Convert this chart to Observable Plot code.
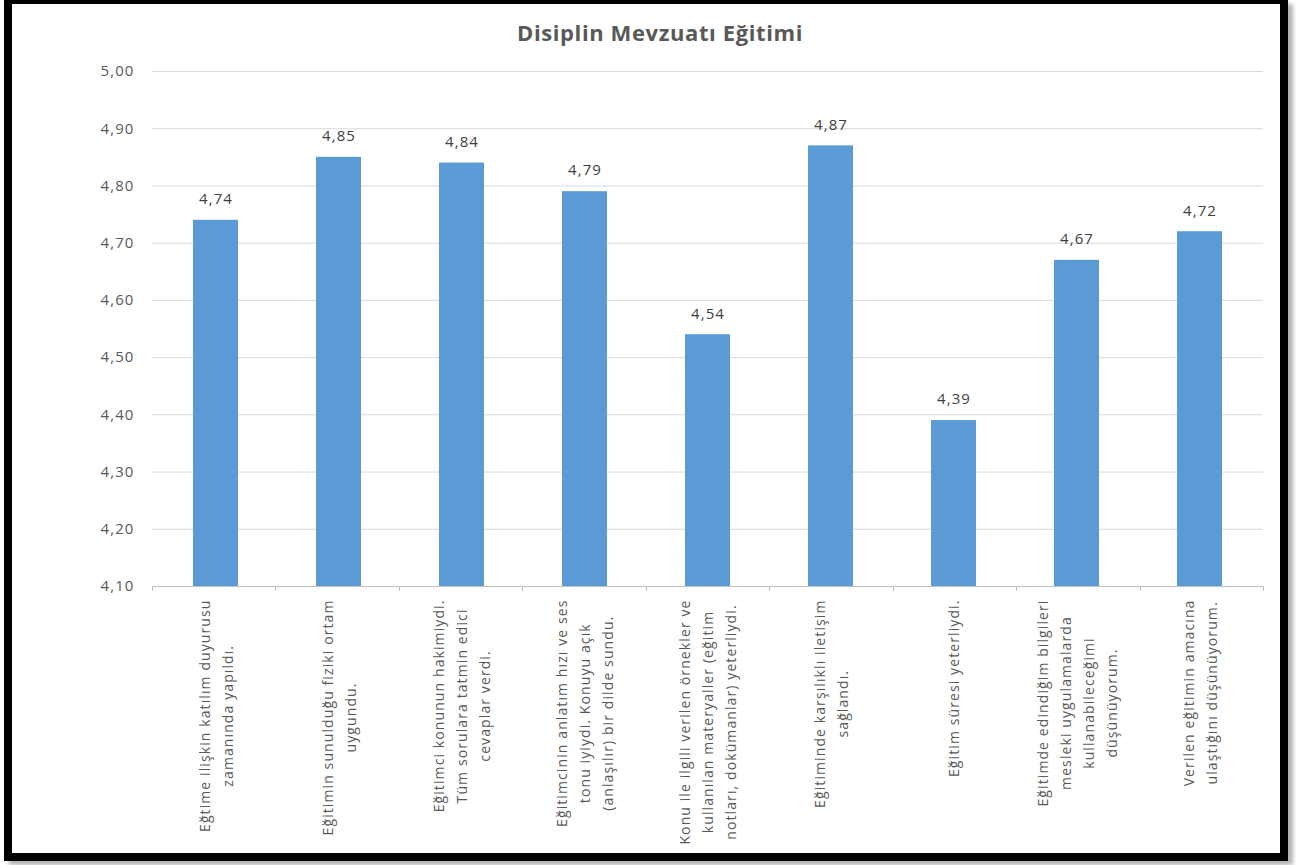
<!DOCTYPE html>
<html>
<head>
<meta charset="utf-8">
<script src="https://cdn.jsdelivr.net/npm/d3@7"></script>
<script src="https://cdn.jsdelivr.net/npm/@observablehq/plot@0.6"></script>
<style>
html, body { margin: 0; padding: 0; background: #fff; }
#wrap { position: relative; width: 1301px; height: 865px; overflow: hidden; font-family: 'Open Sans', sans-serif; }
#frame { position: absolute; left: 4px; top: 0; width: 1284px; height: 861px; box-sizing: border-box;
  border: 8px solid #000; border-top-width: 4px; box-shadow: 5px 4px 4px rgba(0,0,0,0.3); background: #fff; }
#title { position: relative; height: 52px; box-sizing: border-box; padding-top: 17px; padding-left: 19px;
  text-align: center; font: bold 22px 'Open Sans', sans-serif; letter-spacing: 0.6px; line-height: 30px; color: #595959; }
#chart { position: relative; }
#chart svg text { letter-spacing: 1.1px; }
</style>
</head>
<body>
<div id="wrap">
  <div id="frame"></div>
  <div id="title">Disiplin Mevzuatı Eğitimi</div>
  <div id="chart"></div>
</div>
<script>
const categories = [
  "Eğtime ilişkin katılım duyurusu\nzamanında yapıldı.",
  "Eğitimin sunulduğu fiziki ortam\nuygundu.",
  "Eğitimci konunun hakimiydi.\nTüm sorulara tatmin edici\ncevaplar verdi.",
  "Eğitimcinin anlatım hızı ve ses\ntonu iyiydi. Konuyu açık\n(anlaşılır) bir dilde sundu.",
  "Konu ile ilgili verilen örnekler ve\nkullanılan materyaller (eğitim\nnotları, dokümanlar) yeterliydi.",
  "Eğitiminde karşılıklı iletişim\nsağlandı.",
  "Eğitim süresi yeterliydi.",
  "Eğitimde edindiğim bilgileri\nmesleki uygulamalarda\nkullanabileceğimi\ndüşünüyorum.",
  "Verilen eğitimin amacına\nulaştığını düşünüyorum."
];
const values = [4.74, 4.85, 4.84, 4.79, 4.54, 4.87, 4.39, 4.67, 4.72];
const yTicks = [4.1, 4.2, 4.3, 4.4, 4.5, 4.6, 4.7, 4.8, 4.9, 5.0];

const data = categories.map((c, i) => ({cat: c, value: values[i]}));
const fmt = v => d3.format(".2f")(v).replace(".", ",");

const LS = 1.1;
const ctx = document.createElement("canvas").getContext("2d");
ctx.font = "14px 'Open Sans'";
const maxW = c => d3.max(c.split("\n"), l => ctx.measureText(l).width + LS * l.length);

const labelMarks = categories.map(c =>
  Plot.text([c], {
    x: d => d, text: d => d, frameAnchor: "bottom", rotate: -90,
    textAnchor: "middle", lineAnchor: "middle", lineHeight: 1.64,
    fontSize: 14, fill: "#595959", dy: 13 + maxW(c) / 2, dx: -2
  })
);

function boundaryTicks(index, scales, values, dims) {
  const g = d3.create("svg:g");
  const n = categories.length;
  const x0 = dims.marginLeft, x1 = dims.width - dims.marginRight;
  const yb = dims.height - dims.marginBottom;
  for (let i = 0; i <= n; i++) {
    const x = Math.round(x0 + (x1 - x0) * i / n) + 0.5;
    g.append("line").attr("x1", x).attr("x2", x).attr("y1", yb).attr("y2", yb + 5)
      .attr("stroke", "#bfbfbf");
  }
  return g.node();
}

const chart = Plot.plot({
  width: 1301,
  height: 813,
  marginLeft: 152,
  marginRight: 38,
  marginTop: 19,
  marginBottom: 279,
  style: { fontFamily: "'Open Sans', sans-serif", background: "transparent", overflow: "visible" },
  x: { domain: categories, paddingInner: 0.635, paddingOuter: 0.3175, axis: null },
  y: { domain: [4.1, 5.0], axis: null },
  marks: [
    Plot.ruleY(yTicks, { stroke: "#d9d9d9", strokeWidth: 1 }),
    Plot.axisY({ ticks: yTicks, tickFormat: fmt, tickSize: 0, tickPadding: 18, fontSize: 15, color: "#595959", label: null }),
    Plot.ruleY([4.1], { stroke: "#bfbfbf" }),
    boundaryTicks,
    Plot.barY(data, { x: "cat", y1: 4.1, y2: "value", fill: "#5b9bd5" }),
    Plot.text(data, { x: "cat", y: "value", text: d => fmt(d.value), dy: -21, fontSize: 15, fill: "#404040" }),
    ...labelMarks
  ]
});
document.getElementById("chart").appendChild(chart);
</script>
</body>
</html>
